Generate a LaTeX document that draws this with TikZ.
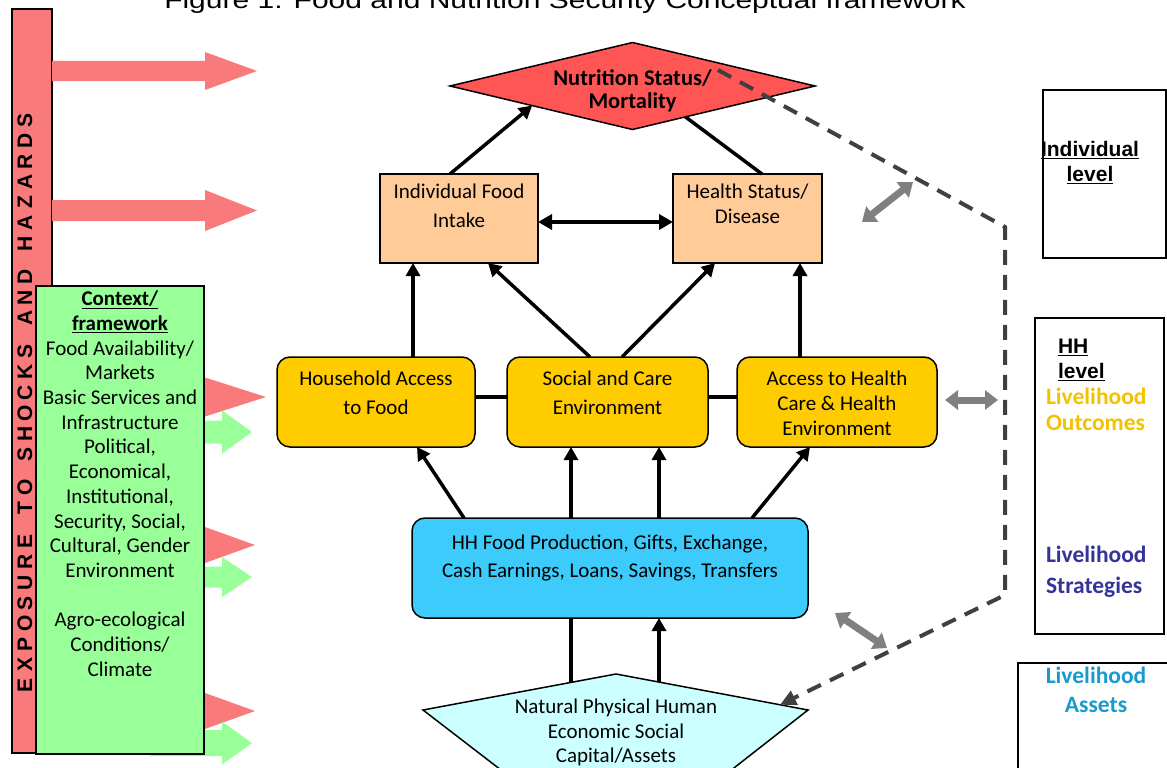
\documentclass[tikz,border=0pt]{standalone}
\usepackage{fontspec}
\setmainfont{Carlito}
\newfontfamily\arialf{Liberation Sans}
\usetikzlibrary{arrows.meta,calc,shapes.geometric}
\definecolor{peachc}{HTML}{FFCC99}
\definecolor{yelc}{HTML}{FFCC00}
\definecolor{cyanc}{HTML}{3CCBFA}
\definecolor{lcyanc}{HTML}{CCFFFF}
\definecolor{redc}{HTML}{FF5555}
\definecolor{pinkc}{HTML}{F87A7A}
\definecolor{greenc}{HTML}{99FF99}
\definecolor{grayc}{HTML}{808080}
\definecolor{dgrayc}{HTML}{404040}
\definecolor{goldc}{HTML}{F2C200}
\definecolor{navyc}{HTML}{333399}
\definecolor{tealc}{HTML}{1A9ACC}
\begin{document}
\begin{tikzpicture}[x=1pt,y=-1pt,
  every node/.style={inner sep=0pt, outer sep=0pt},
  bx/.style={draw=black, line width=1.5pt},
  pbox/.style={bx, fill=peachc},
  ybox/.style={bx, fill=yelc, rounded corners=13pt},
  body/.style={align=center, anchor=north, font=\fontsize{21}{#1}\selectfont},
  boldbody/.style={align=center, anchor=north, font=\bfseries\fontsize{22.5}{#1}\selectfont},
  arr/.style={line width=3.5pt, -{Triangle[length=13pt,width=14pt]}},
  dblarr/.style={line width=3.5pt, {Triangle[length=14pt,width=15pt]}-{Triangle[length=14pt,width=15pt]}},
  ln/.style={line width=3.5pt},
  garr/.style={line width=7pt, draw=grayc, {Triangle[length=13pt,width=19pt]}-{Triangle[length=13pt,width=19pt]}},
  dashl/.style={line width=4pt, draw=dgrayc, dash pattern=on 15pt off 10pt, -{Triangle[length=16pt,width=15pt]}},
  barletter/.style={rotate=90, font=\arialf\bfseries\fontsize{21}{21}\selectfont},
  levtext/.style={font=\arialf\bfseries\fontsize{21}{24.5}\selectfont},
  livtext/.style={font=\bfseries\fontsize{23.5}{#1}\selectfont}
]
\useasboundingbox (0,0) rectangle (1167,768);

% title (cropped at top)
\node[anchor=base, font=\arialf\fontsize{24}{24}\selectfont] (title) at (565,9)
  {\scalebox{1.25}[1]{Figure 1: Food and Nutrition Security Conceptual framework}};

% exposure bar
\node[draw=black, line width=1.5pt, fill=pinkc, minimum width=40pt, minimum height=744pt] (bar) at (32,381) {};
\foreach \ch/\yy in {E/685, X/664.5, P/644, O/623.5, S/603, U/582.5, R/562, E/541.5,
  T/508, O/487.5, S/454, H/433.5, O/413, C/392.5, K/372, S/351.5,
  A/318, N/297.5, D/277, H/243.5, A/223, Z/202.5, A/182, R/161.5, D/141, S/120.5}
  \node[barletter] at (25,\yy) {\ch};

% red shock arrows
\foreach \yc/\hs/\hh/\tip in {71/10/19/257, 210.5/10.5/20.5/257, 397/10/19.5/266, 545/10/18/255, 711/10/18/255}
  \fill[pinkc] (52,\yc-\hs) -- (205,\yc-\hs) -- (205,\yc-\hh) -- (\tip,\yc) -- (205,\yc+\hh) -- (205,\yc+\hs) -- (52,\yc+\hs) -- cycle;
% green context arrows
\foreach \yc/\hs/\hh in {432/11.5/21.5, 577/10.5/20, 743/13/21.5}
  \fill[greenc] (150,\yc-\hs) -- (222,\yc-\hs) -- (222,\yc-\hh) -- (252,\yc) -- (222,\yc+\hh) -- (222,\yc+\hs) -- (150,\yc+\hs) -- cycle;

% context box
\node[draw=black, line width=1.8pt, fill=greenc, minimum width=168pt, minimum height=468pt] (ctx) at (120,520) {};
\node[body=24.7] (ctxT) at (120,291) {\underline{\textbf{Context/}}\\\underline{\textbf{framework}}\\Food Availability/\\Markets\\Basic Services and\\Infrastructure\\Political,\\Economical,\\Institutional,\\Security, Social,\\Cultural, Gender\\Environment\\[24.7pt]Agro-ecological\\Conditions/\\Climate};

% nutrition diamond
\node[diamond, aspect=4.2, draw=black, line width=1.5pt, fill=redc, minimum width=365pt, minimum height=87pt] (nut) at (632.5,86) {};
\node[boldbody=23] (nutT) at (632.5,70) {Nutrition Status/\\Mortality};

% boxes
\node[pbox, minimum width=158pt, minimum height=89pt] (ifi) at (459,218.5) {};
\node[body=29] (ifiT) at (459,184) {Individual Food\\Intake};
\node[pbox, minimum width=149pt, minimum height=89pt] (hs) at (747.5,218.5) {};
\node[body=24.5] (hsT) at (747.5,184) {Health Status/\\Disease};

\node[ybox, minimum width=198pt, minimum height=90pt] (ha) at (376,402) {};
\node[body=29] (haT) at (376,371) {Household Access\\to Food};
\node[ybox, minimum width=201pt, minimum height=90pt] (soc) at (607.5,402) {};
\node[body=29] (socT) at (607.5,371) {Social and Care\\Environment};
\node[ybox, minimum width=200pt, minimum height=90pt] (ah) at (837,402) {};
\node[body=25] (ahT) at (837,371) {Access to Health\\Care \& Health\\Environment};

\node[bx, fill=cyanc, rounded corners=13pt, minimum width=396pt, minimum height=100pt] (hh) at (610,568) {};
\node[body=28] (hhT) at (610,535) {HH Food Production, Gifts, Exchange,\\Cash Earnings, Loans, Savings, Transfers};

% capital pentagon
\filldraw[bx, fill=lcyanc] (616,674) -- (808,710) -- (693,800) -- (540,800) -- (423,710) -- cycle;
\node[body=24.5] (capT) at (616,699) {Natural Physical Human\\Economic Social\\Capital/Assets};
\coordinate (capA) at (571,682.4);
\coordinate (capB) at (659,682.1);
\coordinate (capD) at (780,704.8);

% connectors
\draw[arr] ($(ifi.north west)!0.443!(ifi.north east)$) -- ($(nut.west)!0.45!(nut.south)$);
\draw[ln] ($(hs.north west)!0.597!(hs.north east)$) -- ($(nut.south)!0.29!(nut.east)$);
\draw[dblarr] ([yshift=-3.5pt]ifi.east) -- ([yshift=-3.5pt]hs.west);
\draw[arr] ([xshift=37pt]ha.north) -- ([xshift=37pt]ha.north |- ifi.south);
\draw[arr] ([xshift=-17.5pt]soc.north) -- ([xshift=29pt]ifi.south);
\draw[arr] ([xshift=14.5pt]soc.north) -- ([xshift=-32.5pt]hs.south);
\draw[arr] ([xshift=-37pt]ah.north) -- ([xshift=-37pt]ah.north |- hs.south);
\draw[ln] ([yshift=5pt]ha.east) -- ([yshift=5pt]ha.east -| soc.west);
\draw[ln] ([yshift=5pt]soc.east) -- ([yshift=5pt]soc.east -| ah.west);
\draw[arr] ([xshift=-146pt]hh.north) -- ([xshift=41pt]ha.south);
\draw[arr] ([xshift=-39pt]hh.north) -- ([xshift=-39pt]hh.north |- soc.south);
\draw[arr] ([xshift=49pt]hh.north) -- ([xshift=49pt]hh.north |- soc.south);
\draw[arr] ([xshift=142pt]hh.north) -- ([xshift=-27pt]ah.south);
\draw[ln] (capA) -- (capA |- hh.south);
\draw[arr] (capB) -- (capB |- hh.south);

% dashed boundary
\coordinate (dstart) at (718,70);
\coordinate (dc1) at (1005,227);
\coordinate (dc2) at (1005,595);
\draw[dashl] (dstart) -- (dc1) -- (dc2) -- (capD);

% gray double arrows
\coordinate (g1a) at (862,222); \coordinate (g1b) at (913,182);
\coordinate (g2a) at (945,400); \coordinate (g2b) at (998,400);
\coordinate (g3a) at (835,613); \coordinate (g3b) at (887,648);
\draw[garr] (g1a) -- (g1b);
\draw[garr] (g2a) -- (g2b);
\draw[garr] (g3a) -- (g3b);

% right level boxes
\node[bx, fill=white, minimum width=123pt, minimum height=168pt] (ilev) at (1104.5,174) {};
\node[levtext, align=center, anchor=north] (ilevT) at (1090,141.5) {\underline{Individual}\\\underline{level}};
\node[bx, fill=white, minimum width=129pt, minimum height=316pt] (hlev) at (1099.5,476) {};
\node[levtext, align=left, anchor=north west] (hlevT) at (1058,339.5) {\underline{HH}\\\underline{level}};
\node[livtext=26, text=goldc, align=left, anchor=north west] (outT) at (1046,388.5) {Livelihood\\Outcomes};
\node[livtext=31, text=navyc, align=left, anchor=north west] (strT) at (1046,546.5) {Livelihood\\Strategies};
\node[bx, fill=white, minimum width=200pt, minimum height=200pt] (alev) at (1118,763) {};
\node[livtext=29, text=tealc, align=center, anchor=north] (assT) at (1096,667.5) {Livelihood\\Assets};
\end{tikzpicture}
\end{document}
